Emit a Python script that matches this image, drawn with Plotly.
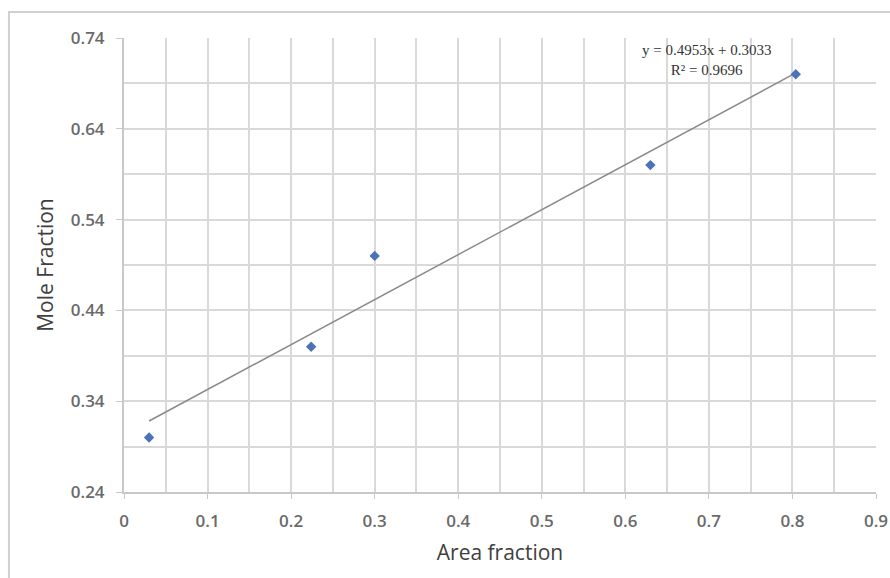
import plotly.graph_objects as go

# Data
area_fraction = [0.03, 0.224, 0.30, 0.63, 0.804]
mole_fraction = [0.30, 0.40, 0.50, 0.60, 0.70]
slope = 0.4953
intercept = 0.3033
r_squared = 0.9696
x_ticks = [0, 0.1, 0.2, 0.3, 0.4, 0.5, 0.6, 0.7, 0.8, 0.9]
y_ticks = [0.24, 0.34, 0.44, 0.54, 0.64, 0.74]

trend_x = [min(area_fraction), max(area_fraction)]
trend_y = [slope * v + intercept for v in trend_x]

font_family = "Open Sans, Lato, sans-serif"
grid_col = "#d9d9d9"

fig = go.Figure()
fig.add_trace(go.Scatter(x=trend_x, y=trend_y, mode="lines",
                         line=dict(color="#8a8a8a", width=1.5),
                         hoverinfo="skip", showlegend=False))
fig.add_trace(go.Scatter(x=area_fraction, y=mole_fraction, mode="markers",
                         marker=dict(symbol="diamond", size=8, color="#4a73b8"),
                         showlegend=False))

fig.update_layout(
    width=890, height=578,
    margin=dict(l=124, r=14, t=38, b=86),
    paper_bgcolor="white", plot_bgcolor="white",
    font=dict(family=font_family, color="#595959"),
    xaxis=dict(range=[0, 0.9], tickvals=x_ticks,
               ticktext=[f"{v:g}" for v in x_ticks],
               automargin=False, ticklabelstandoff=8,
               showgrid=True, gridcolor=grid_col, gridwidth=2,
               minor=dict(dtick=0.05, tick0=0, showgrid=True, gridcolor=grid_col, gridwidth=2),
               showline=True, linecolor="#c8c8c8", linewidth=2,
               ticks="outside", ticklen=5, tickcolor="#c8c8c8",
               zeroline=False, tickfont=dict(size=17, color="#6a6a6a", weight=600),
               title=dict(text="Area fraction", font=dict(size=21, color="#404040"), standoff=14)),
    yaxis=dict(range=[0.24, 0.74], tickvals=y_ticks,
               ticktext=[f"{v:.2f}" for v in y_ticks],
               automargin=False, ticklabelstandoff=8,
               showgrid=True, gridcolor=grid_col, gridwidth=2,
               minor=dict(dtick=0.05, tick0=0.24, showgrid=True, gridcolor=grid_col, gridwidth=2),
               showline=True, linecolor="#c8c8c8", linewidth=2,
               ticks="outside", ticklen=6, tickcolor="#c8c8c8",
               zeroline=False, tickfont=dict(size=17, color="#6a6a6a", weight=600),
               title=dict(text="Mole Fraction", font=dict(size=21, color="#404040"), standoff=11)),
)

fig.add_annotation(x=0.697, y=0.738, xref="x", yref="y",
                   text=f"y = {slope}x + {intercept}<br>R² = {r_squared}",
                   showarrow=False, align="center", yanchor="top",
                   font=dict(size=15, color="#333333", family="Liberation Serif, serif"))

# Outer chart frame
fig.add_shape(type="rect", xref="paper", yref="paper",
              x0=-0.153, x1=1.03, y0=-0.2, y1=1.057,
              line=dict(color="#d0d0d0", width=2), layer="below")

fig.write_html("out.html")
